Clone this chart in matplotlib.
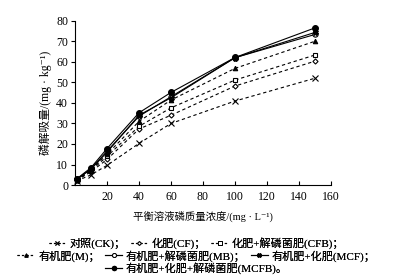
import matplotlib
matplotlib.use("Agg")
import matplotlib.pyplot as plt
from matplotlib.lines import Line2D

plt.rcParams["font.family"] = ["Liberation Serif", "Noto Sans CJK SC", "DejaVu Sans"]

# data
conc = [1, 10, 20, 40, 60, 100, 150]
ck = [2.0, 5.0, 9.6, 20.3, 30.0, 40.9, 52.0]
cf = [2.3, 6.5, 12.5, 27.3, 34.0, 48.2, 60.3]
cfb = [2.5, 7.0, 14.0, 28.6, 37.6, 51.1, 63.3]
m = [2.6, 7.5, 15.0, 31.0, 41.4, 56.8, 70.0]
mb = [2.8, 8.0, 16.5, 33.5, 43.0, 62.0, 73.3]
mcf = [2.7, 7.8, 16.0, 34.0, 42.5, 62.0, 74.3]
mcfb = [3.0, 8.5, 17.8, 35.2, 45.1, 62.1, 76.5]

labels = ["对照(CK)；", "化肥(CF)；", "化肥+解磷菌肥(CFB)；",
          "有机肥(M)；", "有机肥+解磷菌肥(MB)；", "有机肥+化肥(MCF)；",
          "有机肥+化肥+解磷菌肥(MCFB)。"]
series = [ck, cf, cfb, m, mb, mcf, mcfb]
dash = (0, (3, 2.5))
styles = [
    dict(ls=dash, marker="x", mfc="black", ms=4),
    dict(ls=dash, marker="D", mfc="white", ms=2.6),
    dict(ls=dash, marker="s", mfc="white", ms=3.2),
    dict(ls=dash, marker="^", mfc="black", ms=3.2),
    dict(ls="-", marker="o", mfc="white", ms=3.8),
    dict(ls="-", marker="X", mfc="black", ms=3.6),
    dict(ls="-", marker="o", mfc="black", ms=4.2),
]

fig = plt.figure(figsize=(3.93, 2.80), dpi=100)
ax = fig.add_axes([0.191, 0.339, 0.651, 0.587])

handles = []
for y, st in zip(series, styles):
    ax.plot(conc, y, color="black", lw=0.8, mec="black", mew=0.8,
            clip_on=False, **st)
    small = dict(st)
    small["ms"] = st["ms"] * 0.75
    if st["ls"] == dash:
        small["ls"] = (0, (2, 2))
    handles.append(Line2D([], [], color="black", lw=0.8, mec="black", mew=0.7,
                          **small))

ax.set_xlim(0, 160)
ax.set_ylim(0, 80)
ax.set_xticks(range(20, 161, 20))
ax.set_yticks(range(0, 81, 10))
ax.spines["top"].set_visible(False)
ax.spines["right"].set_visible(False)
ax.tick_params(axis="x", direction="in", length=3, labelsize=8.5, pad=4)
ax.tick_params(axis="y", direction="out", length=3, labelsize=8.5, pad=2)
ax.set_ylabel("磷解吸量/(mg · kg⁻¹)", fontsize=8.5, labelpad=3)
ax.set_xlabel("平衡溶液磷质量浓度/(mg · L⁻¹)", fontsize=7.5, labelpad=6)

rows = [(0, 3, 0.132), (3, 6, 0.087), (6, 7, 0.043)]
for a, b, yy in rows:
    leg = fig.legend(handles[a:b], labels[a:b], loc="center",
                     bbox_to_anchor=(0.5, yy), ncol=b - a, frameon=False,
                     fontsize=8, handlelength=1.5, handletextpad=0.35,
                     columnspacing=0.5, borderpad=0, borderaxespad=0)
    fig.add_artist(leg)

fig.savefig("out.png", dpi=100)
